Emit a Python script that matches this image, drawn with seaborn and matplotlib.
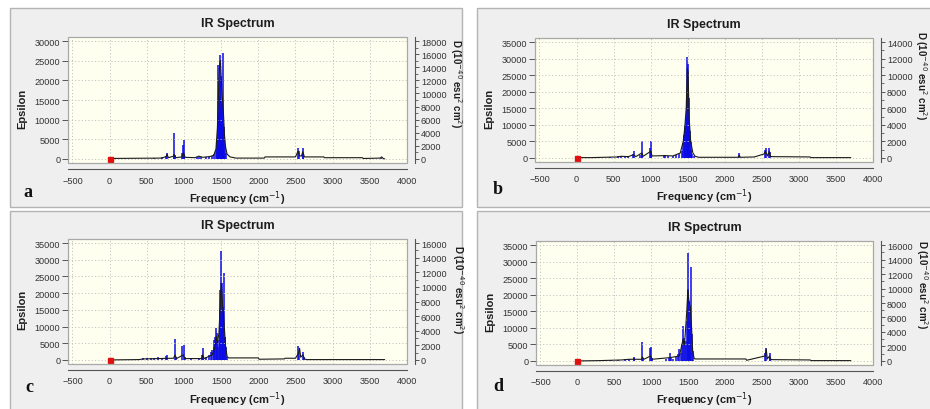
import numpy as np
import matplotlib.pyplot as plt
from matplotlib.patches import Rectangle
from matplotlib.ticker import MultipleLocator
import seaborn as sns

# ---- data ----
# black curve: frequency (cm-1) / epsilon ; blue sticks: frequency / D (1e-40 esu^2 cm^2)

a_curve_x = [0, 300, 700, 760, 772, 790, 860, 872, 890, 970, 995, 1015, 1150, 1200, 1250, 1350,
             1400, 1430, 1450, 1460, 1470, 1480, 1490, 1500, 1510, 1520, 1530, 1545, 1560, 1580,
             1620, 1700, 2080, 2090, 2500, 2535, 2555, 2580, 2598, 2620, 2880, 2890, 3400,
             3410, 3640, 3660, 3680, 3700]
a_curve_y = [100, 150, 200, 600, 1200, 300, 700, 1000, 300, 500, 1500, 400, 300, 700, 400, 600,
             900, 2500, 8000, 15000, 20000, 24000, 25000, 21000, 17000, 15000, 12000, 6000, 3000,
             1200, 500, 200, 200, 500, 500, 2000, 800, 700, 1800, 500, 500, 300, 300,
             100, 200, 500, 100, 0]
a_stick_x = [600, 700, 760, 770, 860, 870, 880, 975, 985, 995, 1005, 1180, 1200, 1230, 1300,
             1340, 1380, 1410, 1425, 1440, 1450, 1455, 1460, 1468, 1475, 1482, 1488, 1495,
             1500, 1505, 1512, 1518, 1524, 1530, 1536, 1542, 1550, 1560, 2535, 2545, 2595,
             2605, 3650]
a_stick_d = [180, 240, 480, 900, 720, 3900, 540, 900, 2100, 2880, 720, 300, 360, 240, 240,
             300, 420, 720, 1200, 2100, 3000, 6600, 14400, 7200, 9600, 12000, 15900, 7800,
             12600, 9000, 6000, 8400, 5400, 16200, 4800, 3000, 1800, 900, 1680, 1200, 1620,
             900, 180]

b_curve_x = [0, 200, 550, 600, 700, 770, 800, 880, 900, 1000, 1020, 1200, 1300, 1400, 1440,
             1460, 1480, 1495, 1505, 1520, 1540, 1570, 1600, 1650, 2180, 2195, 2210, 2400,
             2530, 2550, 2580, 2600, 2620, 3150, 3160, 3700]
b_curve_y = [100, 100, 300, 500, 400, 1000, 400, 1500, 500, 2000, 600, 700, 600, 1500, 5000,
             9000, 15000, 27000, 26000, 12000, 5000, 1500, 500, 200, 200, 800, 200, 300,
             1200, 2000, 600, 2000, 400, 300, 100, 100]
b_stick_x = [300, 450, 560, 600, 650, 700, 760, 770, 860, 880, 890, 985, 1000, 1010, 1180,
             1200, 1230, 1300, 1340, 1380, 1420, 1440, 1450, 1460, 1470, 1480, 1490, 1497,
             1502, 1508, 1514, 1520, 1530, 1540, 1550, 1560, 1580, 2190, 2540, 2550, 2600,
             2610]
b_stick_d = [80, 120, 200, 280, 160, 200, 480, 800, 320, 2000, 600, 1200, 2000, 800, 320,
             360, 280, 240, 400, 480, 800, 1800, 2800, 3600, 4000, 4800, 7600, 12200,
             9000, 11400, 7200, 4000, 3200, 2000, 1000, 480, 240, 600, 1000, 1200, 1200,
             720]

c_curve_x = [0, 400, 450, 860, 880, 900, 990, 1010, 1240, 1250, 1270, 1380, 1420, 1435,
             1450, 1470, 1485, 1500, 1510, 1520, 1530, 1545, 1560, 1580, 1600, 2000, 2010,
             2350, 2360, 2500, 2540, 2555, 2570, 2600, 2620, 2650, 3700]
c_curve_y = [0, 100, 300, 500, 1500, 400, 1500, 400, 400, 1500, 400, 1500, 4000, 7000,
             5000, 8000, 15000, 23000, 20000, 16000, 14000, 9000, 4000, 1000, 600, 600, 200,
             300, 500, 500, 2000, 3500, 800, 1500, 300, 100, 100]
c_stick_x = [450, 500, 550, 600, 650, 700, 760, 770, 880, 890, 980, 1000, 1010, 1100, 1200,
             1240, 1250, 1260, 1300, 1340, 1360, 1380, 1400, 1410, 1420, 1432, 1440, 1450,
             1460, 1470, 1480, 1490, 1500, 1507, 1515, 1522, 1530, 1540, 1548, 1556, 1564,
             1575, 2540, 2550, 2600, 2610]
c_stick_d = [230, 270, 320, 320, 370, 270, 550, 690, 2880, 370, 1970, 2060, 460, 230, 270,
             690, 1650, 460, 370, 690, 1140, 1370, 1830, 2740, 3200, 4340, 3660, 2510,
             1830, 2740, 9600, 6860, 14860, 10510, 6400, 7310, 6860, 11890, 3200, 3200, 1830,
             370, 1970, 1140, 1050, 460]

d_curve_x = [0, 300, 600, 700, 870, 880, 900, 990, 1010, 1250, 1380, 1430, 1450, 1480, 1495,
             1510, 1530, 1545, 1560, 1580, 1600, 2280, 2290, 2540, 2555, 2570, 2600, 2620,
             3150, 3160, 3700]
d_curve_y = [0, 100, 300, 500, 500, 1200, 500, 1500, 500, 1000, 1500, 6500, 5000, 15000,
             21500, 18000, 16000, 10000, 3000, 700, 600, 600, 200, 1500, 3500, 600, 1500, 400,
             300, 100, 100]
d_stick_x = [450, 550, 650, 700, 760, 770, 880, 890, 980, 1000, 1010, 1200, 1240, 1250, 1260,
             1300, 1340, 1360, 1380, 1400, 1420, 1430, 1440, 1450, 1470, 1480, 1490, 1500,
             1510, 1520, 1530, 1540, 1550, 1560, 2540, 2550, 2600, 2610]
d_stick_d = [140, 180, 320, 320, 460, 590, 2650, 370, 1830, 1920, 460, 320, 460, 1050, 370,
             320, 550, 910, 1600, 1140, 2290, 4800, 3200, 2290, 2740, 5490, 9830, 14860,
             8230, 5490, 7540, 13030, 3660, 1370, 1140, 1740, 1050, 460]

origin_x = [0]
origin_y = [0]

letters = ["a", "b", "c", "d"]
eps_max = [30000, 35000, 35000, 35000]
d_max = [18000, 14000, 16000, 16000]

# ---- layout (pixels) ----
W, H = 930, 410
frames = [(68, 407, 38, 164), (535, 873, 39, 163), (68, 407, 240, 365), (536, 873, 242, 366)]
boxes = [(10, 462, 9, 208), (477, 932, 9, 208), (10, 462, 212, 412), (477, 932, 212, 412)]
letter_pos = [(28, 193), (498, 190), (29, 388), (498, 387)]
dlabel_x = [456, 921, 458, 922]
dlabel_y = [84, 76, 290, 285]

sns.set_style("white")
plt.rcParams["font.family"] = ["Liberation Sans", "DejaVu Sans"]

fig = plt.figure(figsize=(W / 100, H / 100), dpi=100)
fig.patch.set_facecolor("white")

curves = [(a_curve_x, a_curve_y), (b_curve_x, b_curve_y), (c_curve_x, c_curve_y), (d_curve_x, d_curve_y)]
sticks = [(a_stick_x, a_stick_d), (b_stick_x, b_stick_d), (c_stick_x, c_stick_d), (d_stick_x, d_stick_d)]

tick_col = "#555555"
lab_col = "#333333"
txt_col = "#1e1e1e"

for i in range(4):
    x0, x1, y0, y1 = boxes[i]
    fig.patches.append(Rectangle((x0 / W, 1 - y1 / H), (x1 - x0) / W, (y1 - y0) / H,
                                 transform=fig.transFigure, facecolor="#efefef",
                                 edgecolor="#b4b4b4", linewidth=1.0, zorder=-10))

    l, r, t, b = frames[i]
    # base axes: frequency axis + D sticks (right); twin: epsilon curve (left), drawn on top
    ax_d = fig.add_axes([l / W, 1 - b / H, (r - l) / W, (b - t) / H])
    ax_e = ax_d.twinx()
    ax_d.yaxis.tick_right()
    ax_d.yaxis.set_label_position("right")
    ax_e.yaxis.tick_left()
    ax_e.yaxis.set_label_position("left")

    ax_d.set_facecolor("#ffffef")
    ax_e.patch.set_visible(False)

    ymax = eps_max[i]
    ax_d.set_xlim(-560, 4000)
    ax_e.set_ylim(-0.035 * ymax, 1.035 * ymax)
    ax_d.set_ylim(-0.035 * d_max[i], 1.035 * d_max[i])

    ax_d.xaxis.set_major_locator(MultipleLocator(500))
    ax_d.xaxis.set_minor_locator(MultipleLocator(50))
    ax_e.yaxis.set_major_locator(MultipleLocator(5000))
    ax_d.yaxis.set_major_locator(MultipleLocator(2000))
    ax_d.yaxis.set_minor_locator(MultipleLocator(1000))

    ax_d.grid(True, axis="x", which="major", color="#c4c4c4", linestyle=(0, (1.2, 2.2)), linewidth=0.7)
    ax_e.grid(True, axis="y", which="major", color="#c4c4c4", linestyle=(0, (1.2, 2.2)), linewidth=0.7)
    ax_d.set_axisbelow(True)

    sx, sd = sticks[i]
    ax_d.vlines(sx, 0, sd, color="#0a0ae6", linewidth=1.1, zorder=3)

    cx, cy = curves[i]
    sns.lineplot(x=cx, y=cy, ax=ax_e, color="#1a1a1a", linewidth=0.8, sort=False, estimator=None)
    ax_e.plot(origin_x, origin_y, "s", color="#e01010", markersize=3.6, zorder=5)

    ax_e.add_patch(Rectangle((0, 0), 1, 1, transform=ax_e.transAxes, fill=False,
                             edgecolor="#a8a8a8", linewidth=0.9, zorder=6, clip_on=False))

    for s in ["top", "right", "left", "bottom"]:
        ax_e.spines[s].set_visible(False)
    for s in ["top", "left"]:
        ax_d.spines[s].set_visible(False)
    for s in ["bottom", "right"]:
        ax_d.spines[s].set_color(tick_col)
        ax_d.spines[s].set_linewidth(0.8)
    ax_d.spines["bottom"].set_position(("outward", 4))
    ax_d.spines["right"].set_position(("outward", 6))

    ax_d.tick_params(axis="x", which="major", direction="out", length=3, width=0.7,
                     color=tick_col, labelsize=6.6, labelcolor=lab_col, pad=2)
    ax_d.tick_params(axis="x", which="minor", direction="out", length=2, width=0.5, color=tick_col)
    ax_e.tick_params(axis="y", which="major", direction="out", length=4, width=0.7,
                     color=tick_col, labelsize=6.6, labelcolor=lab_col, pad=1.5)
    ax_d.tick_params(axis="y", which="major", direction="out", length=3, width=0.7,
                     color=tick_col, labelsize=6.6, labelcolor=lab_col, pad=1)
    ax_d.tick_params(axis="y", which="minor", direction="out", length=1.8, width=0.6, color=tick_col)

    ax_e.set_title("IR Spectrum", fontsize=9, fontweight="bold", color=txt_col, pad=8)
    ax_d.set_xlabel("Frequency (cm$^{-1}$)", fontsize=8, fontweight="bold", color=txt_col)
    ax_d.xaxis.set_label_coords(0.5, -0.20)
    ax_e.set_ylabel("")
    ax_d.set_ylabel("")
    ax_e.text(-0.136, 0.44, "Epsilon", transform=ax_e.transAxes, rotation=90, ha="center",
              va="center", fontsize=8, fontweight="bold", color=txt_col)
    fig.text(dlabel_x[i] / W, 1 - dlabel_y[i] / H, "D (10$^{-40}$ esu$^{2}$ cm$^{2}$)",
             rotation=270, ha="center", va="center", fontsize=7, fontweight="bold", color=txt_col)

    px, py = letter_pos[i]
    fig.text(px / W, 1 - py / H, letters[i], fontsize=13, fontweight="bold",
             family=["Liberation Serif", "DejaVu Serif"], ha="center", va="center", color="#111111")

fig.savefig("out.png", dpi=100, facecolor=fig.get_facecolor())
